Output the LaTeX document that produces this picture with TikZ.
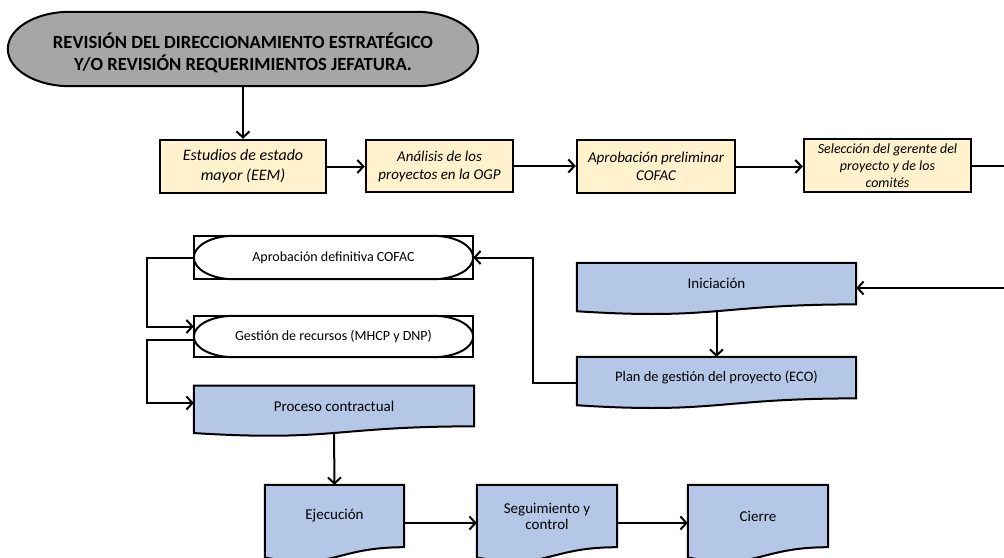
\documentclass[tikz,border=0pt]{standalone}
\usepackage{fontspec}
\setmainfont{Carlito}
\usetikzlibrary{arrows.meta,calc,backgrounds}

\definecolor{hdrgray}{RGB}{166,166,166}
\definecolor{notefill}{RGB}{255,242,204}
\definecolor{phasefill}{RGB}{180,199,231}

\tikzset{
  conn/.style={line width=2pt,-{Straight Barb[length=6pt,width=13pt]}},
  studybox/.style={draw,line width=2.5pt,fill=notefill,inner sep=1pt,align=center,font=\itshape},
  textonly/.style={inner sep=0pt,align=center},
  docline/.style={draw=black,line width=2pt,fill=phasefill},
  capline/.style={draw=black,line width=2pt,fill=white},
  hdrline/.style={draw=black,line width=2pt,fill=hdrgray},
}

% flowchart "document" outline: straight top and sides, wavy bottom edge
\newcommand\docshape[1]{%
  \path[docline] let \p1=(#1.north west), \p2=(#1.south east) in
    (\p1) -- (\x2,\y1) -- (\p2)
    .. controls ({0.5*(\x1+\x2)},\y2) and ({0.5*(\x1+\x2)},{\y1+1.380*(\y2-\y1)})
    .. (\x1,{\y1+1.1646*(\y2-\y1)}) -- cycle;}

% capsule outline with elliptical ends of horizontal half-width #3
\newcommand\capsule[3][capline]{%
  \path[#1] let \p1=(#2.north west), \p2=(#2.south east) in
    (\x1,{0.5*(\y1+\y2)})
    .. controls (\x1,{0.5*(\y1+\y2)+0.276*(\y1-\y2)}) and ({\x1+0.448*#3},\y1) .. ({\x1+#3},\y1)
    -- ({\x2-#3},\y1)
    .. controls ({\x2-0.448*#3},\y1) and (\x2,{0.5*(\y1+\y2)+0.276*(\y1-\y2)}) .. (\x2,{0.5*(\y1+\y2)})
    .. controls (\x2,{0.5*(\y1+\y2)-0.276*(\y1-\y2)}) and ({\x2-0.448*#3},\y2) .. ({\x2-#3},\y2)
    -- ({\x1+#3},\y2)
    .. controls ({\x1+0.448*#3},\y2) and (\x1,{0.5*(\y1+\y2)-0.276*(\y1-\y2)}) .. cycle;}

\begin{document}
\begin{tikzpicture}[x=1pt,y=-1pt]
\useasboundingbox (0,0) rectangle (1004,557);
\clip (0,0) rectangle (1004,557);

% header
\node[textonly,minimum width=470pt,minimum height=74pt] (hdr) at (243,49) {};
\node[textonly,font=\fontsize{18.6}{22}\selectfont\bfseries] (hdrtxt) at (243,53)
  {REVISIÓN DEL DIRECCIONAMIENTO ESTRATÉGICO\\Y/O REVISIÓN REQUERIMIENTOS JEFATURA.};

% first row of studies
\node[studybox,minimum width=166pt,minimum height=53pt,font=\itshape\fontsize{16}{20}\selectfont] (est) at (243,166.5)
  {Estudios de estado\\mayor (EEM)};
\node[studybox,minimum width=147pt,minimum height=52pt,font=\itshape\fontsize{15}{18}\selectfont] (ana) at (439.5,166)
  {Análisis de los\\proyectos en la OGP};
\node[studybox,minimum width=158pt,minimum height=53pt,font=\itshape\fontsize{15}{18}\selectfont] (apc) at (656,166.5)
  {Aprobación preliminar\\COFAC};
\node[studybox,minimum width=167pt,minimum height=53pt,font=\itshape\fontsize{14}{17}\selectfont] (sel) at (887.5,165.5)
  {Selección del gerente del\\proyecto y de los\\comités};

% approval and resources
\node[textonly,minimum width=279pt,minimum height=43pt,font=\fontsize{14}{17}\selectfont] (apr) at (333.5,257.5)
  {Aprobación definitiva COFAC};
\node[textonly,minimum width=279pt,minimum height=41pt,font=\fontsize{14}{17}\selectfont] (ges) at (333.5,336.5)
  {Gestión de recursos (MHCP y DNP)};

% project phases
\node[textonly,minimum width=279pt,minimum height=41.2pt,font=\fontsize{15}{18}\selectfont] (ini) at (716.5,283.6) {Iniciación};
\node[textonly,minimum width=279pt,minimum height=41.2pt,font=\fontsize{14.5}{17}\selectfont] (plan) at (716.5,377.6)
  {Plan de gestión del proyecto (ECO)};
\node[textonly,minimum width=280pt,minimum height=40.3pt,font=\fontsize{15}{18}\selectfont] (proc) at (334,406)
  {Proceso contractual};
\node[textonly,minimum width=139pt,minimum height=62pt,font=\fontsize{15}{18}\selectfont] (ejec) at (334.5,516) {Ejecución};
\node[textonly,minimum width=140pt,minimum height=62pt,font=\fontsize{15}{16}\selectfont] (seg) at (547,516)
  {Seguimiento y\\control};
\node[textonly,minimum width=140pt,minimum height=62pt,font=\fontsize{15}{18}\selectfont] (cie) at (758,516) {Cierre};

% outlines behind the texts
\begin{scope}[on background layer]
  \clip (0,0) rectangle (1004,557);
  \capsule[hdrline]{hdr}{62pt}
  \path[capline] (apr.north west) rectangle (apr.south east);
  \capsule{apr}{40pt}
  \path[capline] (ges.north west) rectangle (ges.south east);
  \capsule{ges}{40pt}
  \docshape{ini}
  \docshape{plan}
  \docshape{proc}
  \docshape{ejec}
  \docshape{seg}
  \docshape{cie}
\end{scope}

% connectors
\coordinate (offA) at (1014,166);
\coordinate (offB) at (1014,288);
\draw[conn] (hdr.south) -- (est.north);
\draw[conn] (est.east) -- (est.east -| ana.west);
\draw[conn] (ana.east) -- (ana.east -| apc.west);
\draw[conn] (apc.east) -- (apc.east -| sel.west);
\draw[conn] (sel.east) -- (sel.east -| offA) -- (offB) -- (offB -| ini.east);
\draw[conn] ($(ini.south)+(0,7)$) -- (plan.north);
\draw[conn] ($(plan.west)+(0,5)$) -- ++(-44,0) |- (apr.east);
\draw[conn] (apr.west) -- ++(-47,0) |- ($(ges.west)+(0,-10)$);
\draw[conn] ($(ges.west)+(0,3)$) -- ++(-47,0) |- ($(proc.west)+(0,-3)$);
\draw[conn] ($(proc.south)+(0,6.6)$) -- (ejec.north);
\draw[conn] ($(ejec.east)+(0,7)$) -- ($(seg.west)+(0,7)$);
\draw[conn] ($(seg.east)+(0,7)$) -- ($(cie.west)+(0,7)$);
\end{tikzpicture}
\end{document}
